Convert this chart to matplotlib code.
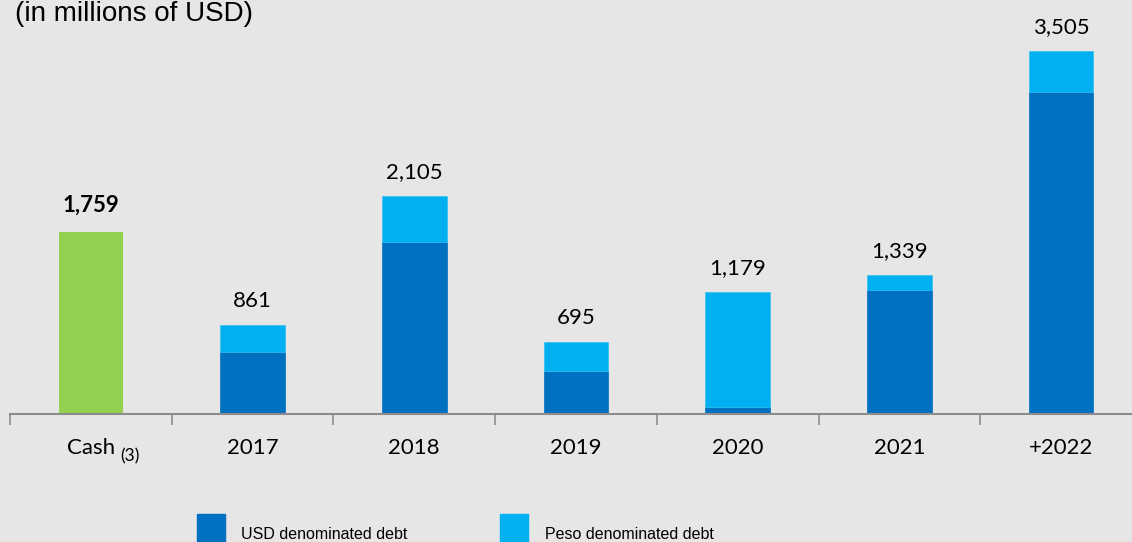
import matplotlib.pyplot as plt

categories = ["Cash", "2017", "2018", "2019", "2020", "2021", "+2022"]
cash = 1759
usd_debt = [599, 1662, 415, 70, 1198, 3111]
peso_debt = [262, 443, 280, 1109, 141, 394]
totals = ["861", "2,105", "695", "1,179", "1,339", "3,505"]

green = "#92d050"
dark_blue = "#0070c0"
light_blue = "#00b0f0"
bg = "#e6e6e6"

fig = plt.figure(figsize=(11.32, 5.42), dpi=100, facecolor=bg)
ax = fig.add_axes([10 / 1132, 128 / 542, 1122 / 1132, 414 / 542])
ax.set_facecolor(bg)

w = 0.4
ax.bar(0, cash, width=w, color=green)
x = list(range(1, 7))
ax.bar(x, usd_debt, width=w, color=dark_blue, edgecolor=dark_blue, linewidth=0.5)
ax.bar(x, peso_debt, width=w, bottom=usd_debt, color=light_blue, edgecolor="#33bff2", linewidth=0.5)

lab_font = "Lato"
ax.annotate(f"{cash:,}", (0, cash), xytext=(0, 14.5), textcoords="offset points",
            ha="center", va="baseline", fontsize=16, fontweight="bold", family=lab_font)
for xi, u, p, t in zip(x, usd_debt, peso_debt, totals):
    ax.annotate(t, (xi, u + p), xytext=(0, 13), textcoords="offset points",
                ha="center", va="baseline", fontsize=16, family=lab_font)

ax.set_xlim(-0.5, 6.5 - 10 / 161.7)
ax.set_ylim(0, 4000)

for s in ["top", "right", "left"]:
    ax.spines[s].set_visible(False)
ax.spines["bottom"].set_color("#8c8c8c")
ax.spines["bottom"].set_linewidth(1.5)
ax.set_yticks([])

ax.set_xticks(range(7))
ax.set_xticklabels(categories, fontsize=16, family=lab_font)
ax.tick_params(axis="x", which="major", length=0, pad=17)
ax.set_xticks([i - 0.5 for i in range(7)], minor=True)
ax.tick_params(axis="x", which="minor", length=8, width=1.2, color="#8c8c8c", direction="out")

# footnote marker on the cash label
ax.annotate("(3)", (0, 0), xytext=(21, -34), textcoords="offset points",
            ha="left", va="baseline", fontsize=12.5, family=lab_font,
            annotation_clip=False)

fig.text(15 / 1132, 1 - 21 / 542, "(in millions of USD)", fontsize=20,
         family="Liberation Sans", va="baseline", ha="left")

# legend
fig.patches.append(plt.Rectangle((197 / 1132, 0), 28 / 1132, 28 / 542,
                                 transform=fig.transFigure, color=dark_blue))
fig.patches.append(plt.Rectangle((500 / 1132, 0), 28 / 1132, 28 / 542,
                                 transform=fig.transFigure, color=light_blue))
fig.text(241 / 1132, 3 / 542, "USD denominated debt", fontsize=11.5,
         family="Liberation Sans", va="baseline")
fig.text(545 / 1132, 3 / 542, "Peso denominated debt", fontsize=11.5,
         family="Liberation Sans", va="baseline")

fig.savefig("out.png", dpi=100, facecolor=bg)
